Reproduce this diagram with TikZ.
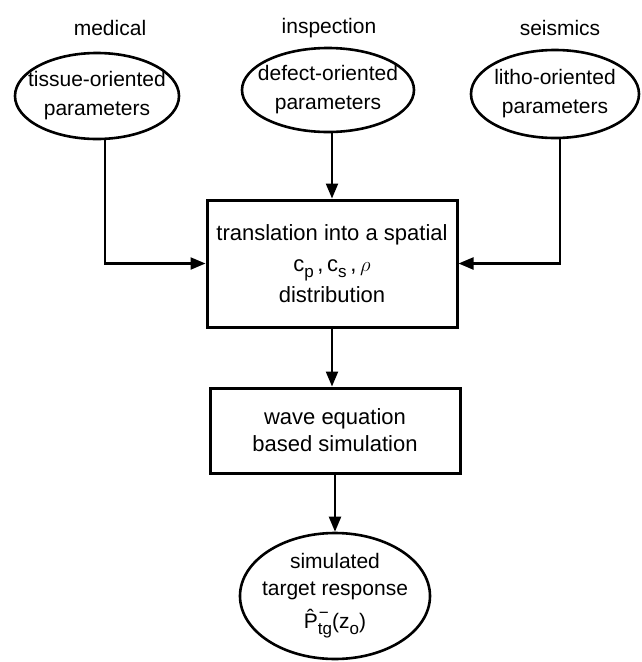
\documentclass[tikz,border=0pt]{standalone}
\usepackage{fontspec}
\setmainfont{Liberation Sans}
\usetikzlibrary{shapes.geometric,arrows.meta}
\newcommand{\lowidx}[1]{\raisebox{-6pt}{\fontsize{17}{17}\selectfont #1}}
\newcommand{\hatP}{\^{P}\raisebox{-6pt}{\fontsize{17}{15}\selectfont\begin{tabular}[b]{@{}l@{}}\kern1pt\textminus\\tg\end{tabular}}}
\tikzset{
  oval/.style={ellipse, draw, line width=2.6pt, inner sep=0pt},
  procbox/.style={rectangle, draw, line width=3pt, inner sep=0pt, align=center},
  toplabel/.style={inner sep=0pt},
  conn/.style={line width=2.2pt, -{Triangle[length=15pt,width=12pt]}}
}
\begin{document}
\begin{tikzpicture}[x=1pt,y=-1pt,font=\fontsize{21}{29}\selectfont]
\useasboundingbox[fill=white] (0,0) rectangle (641,662);

% top labels
\node[toplabel] (lmed) at (110,28) {medical};
\node[toplabel] (linsp) at (329,28) {inspection};
\node[toplabel] (lseis) at (560,28) {seismics};

% parameter ellipses
\node[oval, minimum width=164pt, minimum height=86pt,
      label={[align=center]center:tissue-oriented\\parameters}] (lell) at (97,96) {};
\node[oval, minimum width=172pt, minimum height=84pt,
      label={[align=center]center:defect-oriented\\parameters}] (mell) at (328,90) {};
\node[oval, minimum width=168pt, minimum height=88pt,
      label={[align=center]center:litho-oriented\\parameters}] (rell) at (555,94) {};

% translation box
\node[procbox, minimum width=250pt, minimum height=127pt,
      font=\fontsize{22}{31}\selectfont] (box1) at (332,263.5)
  {translation into a spatial\\
   c\lowidx{p}\,,\,c\lowidx{s}\,,\,$\rho$\\
   distribution};

% wave equation box
\node[procbox, minimum width=250pt, minimum height=85pt,
      font=\fontsize{22}{27}\selectfont] (box2) at (335,430.5)
  {wave equation\\based simulation};

% result ellipse
\node[oval, minimum width=190pt, minimum height=126pt,
      label={[align=center,font=\fontsize{21}{27}\selectfont]center:simulated\\target response\\[6pt]
      \hatP(z\lowidx{o})}] (bell) at (335,596) {};

% connectors
\draw[conn] ([xshift=8pt]lell.south) |- (box1.west);
\draw[conn] (mell.south -| box1.north) -- (box1.north);
\draw[conn] ([xshift=5pt]rell.south) |- (box1.east);
\draw[conn] (box1.south) -- (box1.south |- box2.north);
\draw[conn] (box2.south) -- (bell.north);
\end{tikzpicture}
\end{document}
